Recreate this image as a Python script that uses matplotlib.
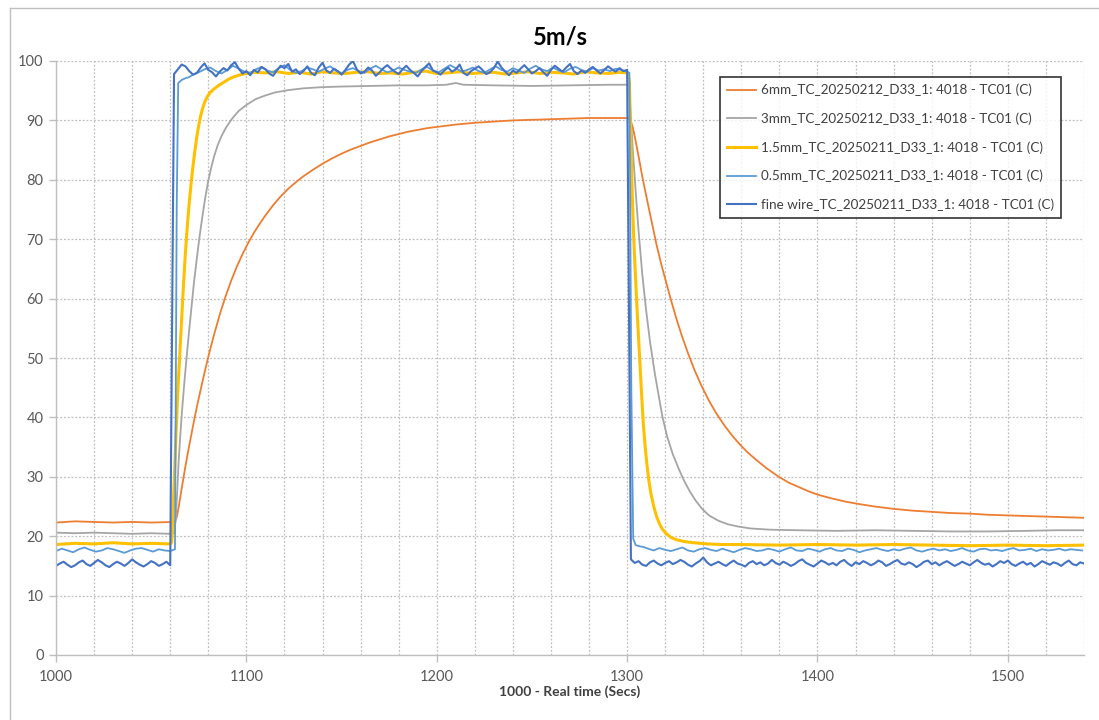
import numpy as np
import matplotlib
matplotlib.use("Agg")
import matplotlib.pyplot as plt
from matplotlib.lines import Line2D
from matplotlib.ticker import MultipleLocator

plt.rcParams['font.family'] = ['Lato', 'DejaVu Sans']

# ---------------- data ----------------
title = "5m/s"
xlabel = "1000 - Real time (Secs)"
labels = [
    "6mm_TC_20250212_D33_1: 4018 - TC01 (C)",
    "3mm_TC_20250212_D33_1: 4018 - TC01 (C)",
    "1.5mm_TC_20250211_D33_1: 4018 - TC01 (C)",
    "0.5mm_TC_20250211_D33_1: 4018 - TC01 (C)",
    "fine wire_TC_20250211_D33_1: 4018 - TC01 (C)",
]

# 6mm (orange)
t_6mm = [1000, 1010, 1020, 1030, 1040, 1050, 1062.5,
         1063.5, 1064.5, 1066, 1068, 1070, 1072, 1074, 1076, 1078, 1080, 1083, 1086, 1089,
         1092, 1095, 1098, 1101, 1104, 1107, 1110, 1114, 1118, 1122, 1126, 1130, 1135, 1140,
         1145, 1150, 1155, 1160, 1165, 1170, 1175, 1180, 1185, 1190, 1195, 1200, 1210, 1220,
         1230, 1240, 1250, 1260, 1270, 1280, 1290, 1300, 1301.2,
         1302, 1303, 1304, 1306, 1308, 1310.5, 1313, 1315.5, 1318, 1320.3, 1323, 1326, 1329,
         1332, 1335.5, 1339.4, 1343, 1347, 1351, 1355, 1358.8, 1363, 1368, 1373, 1379.7,
         1385, 1390, 1395, 1400, 1407, 1415, 1422, 1430, 1440, 1450, 1460, 1470, 1480, 1490,
         1500, 1510, 1520, 1530, 1540]
v_6mm = [22.3, 22.5, 22.4, 22.3, 22.4, 22.3, 22.4,
         23.3, 25.0, 28.0, 31.8, 35.3, 38.6, 41.8, 44.7, 47.5, 50.2, 53.9, 57.3, 60.3,
         63.0, 65.4, 67.5, 69.4, 71.1, 72.6, 74.0, 75.7, 77.2, 78.5, 79.6, 80.6, 81.7, 82.7,
         83.6, 84.4, 85.1, 85.7, 86.3, 86.8, 87.3, 87.7, 88.1, 88.4, 88.7, 88.9, 89.3, 89.6,
         89.8, 90.0, 90.1, 90.2, 90.3, 90.4, 90.4, 90.4, 90.3,
         89.8, 88.8, 87.3, 84.0, 80.5, 76.6, 72.8, 69.0, 65.7, 63.0, 59.8, 56.5, 53.5,
         50.8, 47.9, 45.1, 42.8, 40.6, 38.7, 37.0, 35.6, 34.2, 32.8, 31.5, 30.0,
         29.0, 28.3, 27.6, 27.0, 26.4, 25.8, 25.4, 25.0, 24.6, 24.3, 24.1, 23.9, 23.8, 23.6,
         23.5, 23.4, 23.3, 23.2, 23.1]

# 3mm (grey)
t_3mm = [1000, 1010, 1020, 1030, 1040, 1050, 1060, 1062,
         1062.8, 1063.6, 1064.4, 1065.3, 1066.3, 1067.4, 1068.5, 1069.8, 1071, 1072.4, 1073.8,
         1075.3, 1076.8, 1078.3, 1079.9, 1081.5, 1083, 1085, 1087, 1089.5, 1092.5, 1096, 1100,
         1105, 1110, 1115, 1122, 1130, 1140, 1150, 1165, 1180, 1195, 1205, 1210, 1214, 1230,
         1250, 1270, 1290, 1300.5,
         1301, 1302, 1303, 1304.5, 1306, 1308, 1310, 1312, 1314.5, 1316.5, 1318.5, 1321, 1324,
         1327.3, 1330, 1333, 1336, 1339.4, 1343, 1348, 1353, 1358.8, 1365, 1375, 1390, 1410,
         1430, 1450, 1470, 1490, 1510, 1525, 1540]
v_3mm = [20.6, 20.5, 20.6, 20.5, 20.4, 20.5, 20.4, 20.5,
         22.5, 27.0, 32.5, 37.0, 41.5, 45.8, 49.7, 54.2, 58.0, 62.5, 66.3,
         70.2, 73.6, 76.8, 79.7, 82.0, 83.9, 85.9, 87.4, 88.9, 90.3, 91.6, 92.6,
         93.6, 94.2, 94.7, 95.1, 95.4, 95.6, 95.7, 95.8, 95.9, 95.9, 96.0, 96.3, 96.0, 95.9,
         95.8, 95.9, 96.0, 96.0,
         95.3, 90.5, 85.0, 78.0, 71.5, 64.0, 58.0, 52.8, 47.5, 43.8, 40.2, 36.8, 33.8,
         31.2, 29.3, 27.5, 26.0, 24.6, 23.5, 22.6, 22.0, 21.6, 21.3, 21.1, 21.0, 20.9,
         21.0, 20.9, 20.8, 20.8, 20.9, 21.0, 21.0]

# 1.5mm (yellow)
t_15mm = [1000, 1010, 1020, 1030, 1040, 1050, 1060,
          1060.8, 1061.5, 1062.3, 1063.2, 1064, 1065, 1066, 1067, 1068, 1069, 1070, 1071,
          1072, 1073, 1074, 1075, 1076, 1077, 1078, 1079.5, 1081, 1083, 1085.5, 1088, 1091,
          1094, 1097, 1100, 1104, 1110, 1116, 1122, 1128, 1134, 1140, 1146, 1152, 1158, 1164,
          1170, 1176, 1182, 1188, 1194, 1200, 1206, 1212, 1218, 1224, 1230, 1236, 1242, 1248,
          1254, 1260, 1266, 1272, 1278, 1284, 1290, 1296, 1300.5,
          1301.2, 1302, 1302.7, 1303.5, 1304.5, 1305.5, 1306.5, 1307.5, 1308.5, 1309.5, 1310.5,
          1311.5, 1312.5, 1314, 1315.5, 1317, 1318.5, 1320.3, 1323, 1326, 1330, 1335, 1342,
          1350, 1360, 1380, 1400, 1420, 1440, 1460, 1480, 1500, 1520, 1540]
v_15mm = [18.6, 18.8, 18.7, 18.9, 18.7, 18.8, 18.7,
          19.0, 24.5, 31.0, 38.5, 44.5, 50.5, 56.5, 62.5, 67.8, 72.3, 76.2, 79.5,
          82.4, 85.0, 87.3, 89.2, 90.8, 92.0, 93.0, 94.0, 94.7, 95.3, 95.9, 96.4, 97.0,
          97.4, 97.7, 97.9, 98.1, 98.0, 98.2, 97.9, 98.1, 97.8, 98.2, 98.0, 97.9, 98.1, 98.2,
          97.9, 98.0, 97.8, 98.1, 98.3, 97.9, 98.0, 98.2, 97.9, 98.0, 98.1, 97.8, 98.0, 98.2,
          97.9, 98.1, 98.0, 97.8, 98.2, 98.0, 97.9, 98.1, 98.0,
          96.5, 86.0, 77.5, 70.0, 63.0, 56.5, 50.5, 44.5, 39.0, 35.0, 31.8,
          29.2, 27.2, 25.0, 23.3, 22.1, 21.2, 20.5, 19.8, 19.4, 19.1, 18.9, 18.7,
          18.6, 18.6, 18.5, 18.6, 18.5, 18.6, 18.5, 18.4, 18.5, 18.4, 18.5]

# 0.5mm (light blue) - sampled every 3 s on the plateaus
lb_base_start, lb_top_start, lb_bot_start, lb_step = 1000, 1075, 1311, 3
lb_base = [17.5, 17.9, 17.6, 17.3, 17.8, 18.1, 17.7, 17.4, 17.6, 18.0, 17.8, 17.5,
           17.2, 17.6, 17.9, 18.0, 17.7, 17.4, 17.8, 17.6, 17.5]
lb_rise_t = [1062.5, 1063.4, 1064.2, 1066, 1068, 1070, 1072]
lb_rise_v = [17.8, 75.0, 96.3, 96.8, 97.1, 97.3, 97.7]
lb_top = [98.1, 98.6, 98.9, 98.3, 97.9, 98.5, 99.2, 98.7, 98.2, 98.0,
          98.6, 99.0, 98.4, 98.1, 98.8, 99.3, 98.5, 98.0, 98.3, 98.9,
          98.6, 98.2, 98.7, 99.1, 98.4, 97.9, 98.5, 98.8, 98.3, 98.0,
          98.7, 99.2, 98.6, 98.1, 98.4, 98.9, 98.5, 98.2, 98.0, 98.6,
          99.0, 98.4, 98.1, 98.7, 99.3, 98.8, 98.2, 98.5, 98.9, 98.3,
          98.0, 98.6, 99.1, 98.5, 98.2, 98.8, 98.4, 98.0, 98.7, 99.2,
          98.6, 98.3, 98.9, 98.4, 98.1, 98.7, 99.0, 98.5, 98.2, 98.8,
          98.4, 98.6, 98.3, 98.7, 98.5, 98.2]
lb_fall_t = [1301.2, 1302.2, 1303.2, 1304.5, 1306.5, 1308.5]
lb_fall_v = [98.0, 45.0, 19.6, 18.5, 18.3, 18.2]
lb_bot = [17.9, 17.6, 18.0, 17.7, 17.5, 17.8, 18.1, 17.6, 17.4, 17.8,
          18.0, 17.7, 17.5, 17.9, 17.6, 17.3, 17.7, 18.0, 17.8, 17.5,
          17.6, 17.9, 17.7, 17.4, 17.8, 18.1, 17.6, 17.5, 17.9, 17.7,
          17.4, 17.8, 18.0, 17.6, 17.5, 17.9, 17.7, 17.3, 17.6, 17.8,
          18.0, 17.7, 17.5, 17.8, 17.6, 17.9, 18.1, 17.6, 17.4, 17.7,
          17.9, 17.6, 17.8, 17.5, 17.7, 18.0, 17.6, 17.4, 17.8, 17.9,
          17.6, 17.7, 17.5, 17.8, 18.0, 17.6, 17.7, 17.9, 17.5, 17.8,
          17.6, 17.7, 17.9, 17.6, 17.8, 17.7, 17.6]

# fine wire (dark blue) - sampled every 2 s
fw_base_start, fw_top_start, fw_bot_start, fw_step = 1000, 1062, 1302, 2
fw_base = [15.0, 15.4, 15.7, 15.2, 14.8, 15.1, 15.6, 15.9, 15.3, 15.0,
           15.5, 16.0, 15.6, 15.1, 14.8, 15.3, 15.7, 15.4, 15.0, 15.5,
           16.1, 15.6, 15.2, 14.9, 15.3, 15.8, 15.5, 15.0, 15.3, 15.7, 15.1]
fw_top = [97.8, 98.6, 99.4, 99.1, 98.3, 97.7, 98.0, 98.9, 99.6, 98.5,
          98.1, 97.4, 98.2, 98.8, 98.4, 99.3, 99.8, 98.7, 97.9, 98.3,
          97.6, 98.5, 98.1, 99.0, 98.6, 97.9, 97.5, 98.4, 99.2, 98.8,
          99.5, 98.2, 98.6, 97.8, 98.3, 99.1, 98.0, 97.6, 98.9, 99.7,
          98.4, 98.0, 98.7, 98.3, 97.7, 98.5, 99.4, 100.0, 98.6, 97.9,
          98.2, 98.9, 98.4, 97.5, 98.1, 98.8, 99.3, 98.7, 98.2, 97.8,
          98.6, 99.2, 98.5, 98.0, 97.4, 98.3, 99.0, 99.6, 98.4, 98.1,
          97.7, 98.4, 98.9, 98.2, 98.6, 99.4, 98.0, 97.6, 98.3, 98.7,
          99.1, 98.5, 97.8, 98.1, 98.8, 99.9, 98.9, 98.2, 97.6, 98.4,
          98.0, 98.7, 99.3, 98.6, 97.9, 98.3, 98.8, 98.1, 97.5, 98.5,
          99.2, 98.7, 98.2, 98.9, 99.5, 98.3, 97.8, 98.4, 98.0, 98.6,
          99.0, 98.4, 97.9, 98.5, 99.1, 98.6, 98.2, 98.8, 98.3, 98.5]
fw_bot = [16.1, 15.5, 15.8, 15.2, 15.0, 15.6, 15.9, 15.4, 15.1, 15.5,
          15.8, 15.3, 15.6, 16.0, 15.7, 15.2, 14.9, 15.4, 15.8, 16.4,
          15.6, 15.1, 15.4, 15.7, 15.3, 15.0, 15.5, 15.9, 15.4, 15.2,
          14.9, 15.5, 15.8, 15.3, 15.6, 15.1, 15.4, 16.0, 15.5, 15.2,
          15.7, 15.4, 15.0, 15.3, 15.8, 16.1, 15.5, 15.2, 14.9, 15.4,
          15.9, 15.6, 15.2, 15.5, 15.1, 15.7, 16.0, 15.4, 15.0, 15.6,
          15.3, 15.8, 15.5, 15.1, 15.4, 15.9, 15.6, 15.0, 15.3, 15.7,
          16.0, 15.4, 15.2, 15.6, 15.3, 14.8, 15.2, 15.7, 15.9, 15.3,
          15.6, 15.1, 15.5, 15.8, 15.4, 15.0, 15.3, 15.7, 15.4, 15.1,
          15.6, 16.0, 15.5, 15.2, 15.4, 14.9, 15.3, 15.8, 15.5, 15.9,
          15.3, 15.0, 15.4, 15.7, 15.2, 15.5, 14.9, 15.3, 15.8, 15.5,
          15.2, 15.6, 15.4, 15.0, 15.5, 15.9, 15.3, 15.1, 15.6, 15.4]

colors = ["#ED7D31", "#A5A5A5", "#FFC000", "#5B9BD5", "#4472C4"]
widths = [1.3, 1.3, 2.2, 1.3, 1.5]


def seg(start, step, vals):
    return list(start + step * np.arange(len(vals)))


t_05 = seg(lb_base_start, lb_step, lb_base) + lb_rise_t + seg(lb_top_start, lb_step, lb_top) \
    + lb_fall_t + seg(lb_bot_start, lb_step, lb_bot)
v_05 = lb_base + lb_rise_v + lb_top + lb_fall_v + lb_bot
t_fw = seg(fw_base_start, fw_step, fw_base) + seg(fw_top_start, fw_step, fw_top) \
    + seg(fw_bot_start, fw_step, fw_bot)
v_fw = fw_base + fw_top + fw_bot

series = [(t_6mm, v_6mm), (t_3mm, v_3mm), (t_15mm, v_15mm), (t_05, v_05), (t_fw, v_fw)]

# ---------------- figure ----------------
fig = plt.figure(figsize=(10.99, 7.2), dpi=100)
ax = fig.add_axes([56 / 1099, 1 - 655 / 720, (1084 - 56) / 1099, (655 - 61) / 720])

grid_c = "#BFBFBF"
tick_c = "#595959"

for (t, v), c, lw, lab in zip(series, colors, widths, labels):
    ax.plot(t, v, color=c, lw=lw, label=lab, solid_joinstyle="round")

ax.set_xlim(1000, 1540)
ax.set_ylim(0, 100)
ax.xaxis.set_major_locator(MultipleLocator(100))
ax.xaxis.set_minor_locator(MultipleLocator(20))
ax.yaxis.set_major_locator(MultipleLocator(10))

ax.grid(True, which="major", axis="both", color=grid_c, lw=0.9, ls=(0, (1.5, 1.5)))
ax.grid(True, which="minor", axis="x", color=grid_c, lw=0.9, ls=(0, (1.5, 1.5)))
ax.set_axisbelow(True)

for s in ["top", "right"]:
    ax.spines[s].set_visible(False)
for s in ["left", "bottom"]:
    ax.spines[s].set_color("#BFBFBF")
    ax.spines[s].set_linewidth(1.0)

ax.tick_params(axis="both", which="major", colors=tick_c, labelsize=10.5,
               length=5, width=1.0, color="#BFBFBF", direction="out")
ax.tick_params(axis="x", which="minor", length=0)
ax.tick_params(axis="x", pad=6)
ax.tick_params(axis="y", pad=4)
for lab in ax.get_xticklabels() + ax.get_yticklabels():
    lab.set_color(tick_c)

fig.text(560 / 1099, 1 - 37 / 720, title, ha="center", va="center",
         fontsize=17, fontweight="bold", color="#000000")
fig.text(570 / 1099, 1 - 692 / 720, xlabel, ha="center", va="center",
         fontsize=10, fontweight="bold", color="#404040")

leg = ax.legend(loc="upper right", bbox_to_anchor=(1061 / 1099, 1 - 77 / 720),
                bbox_transform=fig.transFigure, frameon=True, fancybox=False,
                fontsize=9.7, handlelength=2.15, handletextpad=0.37, labelspacing=1.2,
                borderpad=0.5, borderaxespad=0)
leg.get_frame().set_edgecolor("#000000")
leg.get_frame().set_linewidth(1.2)
for txt in leg.get_texts():
    txt.set_color("#404040")
for h, lw in zip(leg.get_lines(), widths):
    h.set_linewidth(lw)

# chart-area border (cut by the image edges)
fig.add_artist(Line2D([10 / 1099, 10 / 1099], [0, 1 - 8 / 720], transform=fig.transFigure,
                      color="#BFBFBF", lw=1.0))
fig.add_artist(Line2D([10 / 1099, 1], [1 - 8 / 720, 1 - 8 / 720], transform=fig.transFigure,
                      color="#BFBFBF", lw=1.0))

fig.savefig("out.png", dpi=100)
